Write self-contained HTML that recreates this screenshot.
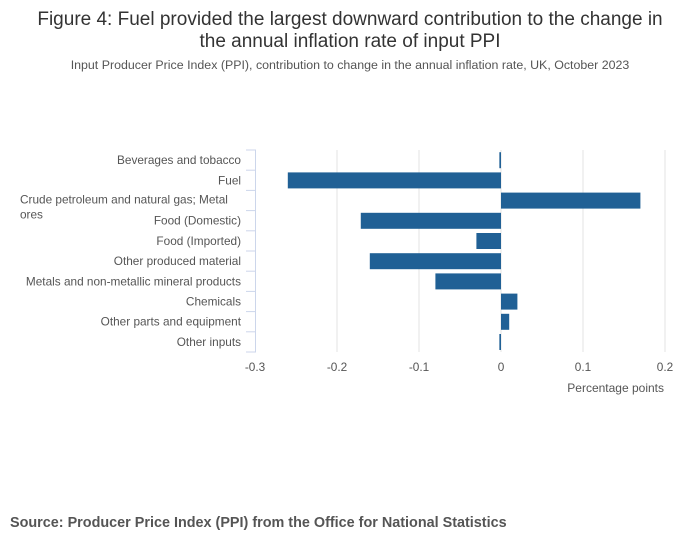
<!DOCTYPE html>
<html><head><meta charset="utf-8"><style>
body{margin:0;background:#fff;width:700px;height:549px;overflow:hidden;font-family:"Liberation Sans",sans-serif}
</style></head><body>
<svg width="700" height="549" xmlns="http://www.w3.org/2000/svg">
<text x="350" y="25" text-anchor="middle" font-size="19" fill="#333">Figure 4: Fuel provided the largest downward contribution to the change in</text>
<text x="350" y="47" text-anchor="middle" font-size="19" fill="#333">the annual inflation rate of input PPI</text>
<text x="350" y="69" text-anchor="middle" font-size="12.4" fill="#555">Input Producer Price Index (PPI), contribution to change in the annual inflation rate, UK, October 2023</text>
<g id="grid"></g>
<g id="bars"></g>
<g id="yaxis"></g>
<g id="xaxis"></g>
<text x="664" y="392" text-anchor="end" font-size="12" fill="#555">Percentage points</text>
<text x="10" y="527" font-size="14.4" font-weight="bold" fill="#555">Source: Producer Price Index (PPI) from the Office for National Statistics</text>
</svg>
<script>
const categories=["Beverages and tobacco","Fuel","Crude petroleum and natural gas; Metal ores","Food (Domestic)","Food (Imported)","Other produced material","Metals and non-metallic mineral products","Chemicals","Other parts and equipment","Other inputs"];
const values=[-0.002,-0.26,0.17,-0.171,-0.03,-0.16,-0.08,0.02,0.01,-0.002];
const xTicks=[-0.3,-0.2,-0.1,0,0.1,0.2];
const xTickLabels=["-0.3","-0.2","-0.1","0","0.1","0.2"];
const NS="http://www.w3.org/2000/svg";
const x=v=>501+v*820;
const top0=150,step=20.2;
const y=i=>top0+i*step;
function mk(t,a,p){const e=document.createElementNS(NS,t);for(const k in a)e.setAttribute(k,a[k]);p.appendChild(e);return e;}
const grid=document.getElementById('grid'),bars=document.getElementById('bars'),ya=document.getElementById('yaxis'),xa=document.getElementById('xaxis');
xTicks.forEach((t,i)=>{
 if(i>0){const l=mk('line',{x1:x(t),x2:x(t),y1:150,y2:352,stroke:'#e3e3e3','stroke-width':1},grid);
 
 }
 const tx=mk('text',{x:x(t),y:371,'text-anchor':'middle','font-size':11.8,fill:'#555'},xa);
 tx.textContent=xTickLabels[i];
 
 
});
values.forEach((v,i)=>{
 const x0=Math.min(x(0),x(v)),w=Math.max(1,Math.abs(x(v)-x(0)));
 const r=mk('rect',{x:x0,y:y(i)+2.2,width:w,height:16,fill:'#206095'},bars);
 
 
});
const ax=mk('line',{x1:255.5,x2:255.5,y1:150,y2:352,stroke:'#ccd6eb'},ya);


for(let i=0;i<=categories.length;i++){
 const tk=mk('line',{x1:246,x2:256,y1:y(i),y2:y(i),stroke:'#ccd6eb'},ya);
 
 
}
categories.forEach((c,i)=>{
 const cy=y(i)+step/2+4;
 if(c.length>40){
  const t1=mk('text',{x:20,y:cy-1,'font-size':11.8,fill:'#555'},ya);t1.textContent="Crude petroleum and natural gas; Metal";
  
  
  const t2=mk('text',{x:20,y:cy+14,'font-size':11.8,fill:'#555'},ya);t2.textContent="ores";
  
  
 } else {
  const t=mk('text',{x:241,y:cy,'text-anchor':'end','font-size':11.8,fill:'#555'},ya);t.textContent=c;
  
  
 }
});
</script>
</body></html>
